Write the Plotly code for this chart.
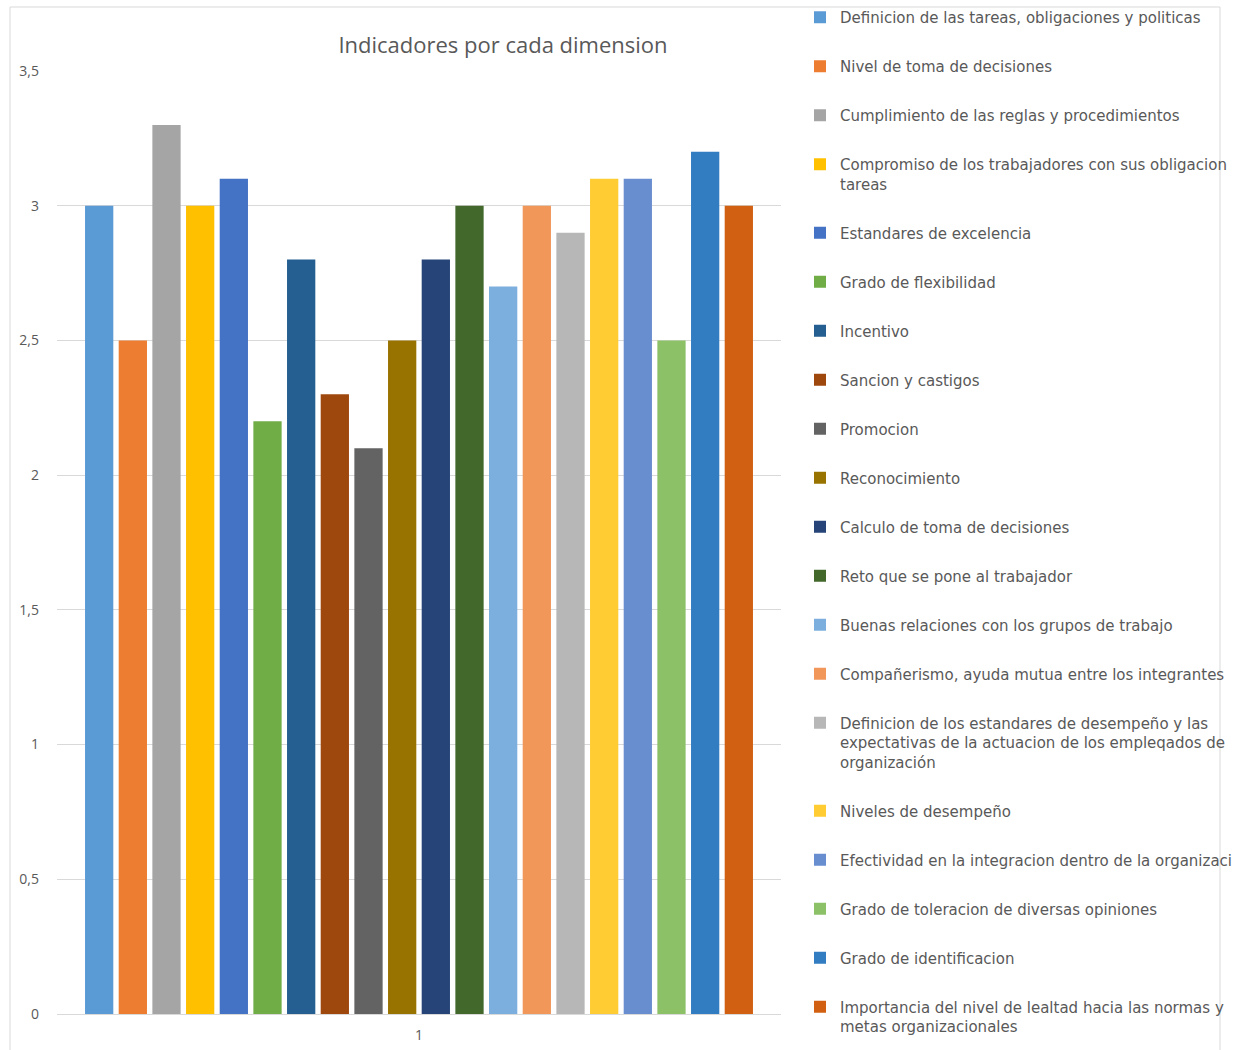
import plotly.graph_objects as go

categories = ["1"]
series_names = [
    "Definicion de las tareas, obligaciones y politicas",
    "Nivel de toma de decisiones",
    "Cumplimiento de las reglas y procedimientos",
    "Compromiso de los trabajadores con sus obligacion<br>tareas",
    "Estandares de excelencia",
    "Grado de flexibilidad",
    "Incentivo",
    "Sancion y castigos",
    "Promocion",
    "Reconocimiento",
    "Calculo de toma de decisiones",
    "Reto que se pone al trabajador",
    "Buenas relaciones con los grupos de trabajo",
    "Compañerismo, ayuda mutua entre los integrantes",
    "Definicion de los estandares de desempeño y las<br>expectativas de la actuacion de los empleqados de<br>organización",
    "Niveles de desempeño",
    "Efectividad en la integracion dentro de la organizaci",
    "Grado de toleracion de diversas opiniones",
    "Grado de identificacion",
    "Importancia del nivel de lealtad hacia las normas y<br>metas organizacionales",
]
series_values = [3.0, 2.5, 3.3, 3.0, 3.1, 2.2, 2.8, 2.3, 2.1, 2.5,
                 2.8, 3.0, 2.7, 3.0, 2.9, 3.1, 3.1, 2.5, 3.2, 3.0]
series_colors = [
    "#5B9BD5", "#ED7D31", "#A5A5A5", "#FFC000", "#4472C4",
    "#70AD47", "#255E91", "#9E480E", "#636363", "#997300",
    "#264478", "#43682B", "#7CAFDD", "#F1975A", "#B7B7B7",
    "#FFCD33", "#698ED0", "#8CC168", "#327DC2", "#D26012",
]
y_tick_vals = [0, 0.5, 1, 1.5, 2, 2.5, 3, 3.5]

W, H = 1233, 1050
L, R, T, B = 57, 781, 71, 1014
pw, ph = R - L, B - T

def px_x(x):
    return (x - L) / pw

def px_y(y):
    return (B - y) / ph

FONT = "Open Sans"
LFONT = "DejaVu Sans"
GRAY = "#595959"

fig = go.Figure()
for i, (name, val, col) in enumerate(zip(series_names, series_values, series_colors)):
    fig.add_trace(go.Bar(
        x=categories, y=[val], name=name, marker_color=col,
        marker_line_width=0, legendgroup=f"g{i}",
    ))

fig.update_layout(
    width=W, height=H,
    margin=dict(l=L, r=W - R, t=T, b=H - B, pad=0, autoexpand=False),
    paper_bgcolor="white", plot_bgcolor="white",
    separators=",.",
    barmode="group", bargap=0.07, bargroupgap=0.16,
    title=dict(text="Indicadores por cada dimension", x=px_x(503), xref="paper",
               xanchor="center", y=1 - 45 / H, yanchor="middle",
               font=dict(family=FONT, size=22, color=GRAY)),
    font=dict(family=FONT, color=GRAY),
    showlegend=True,
    legend=dict(x=px_x(800), xanchor="left", y=px_y(1), yanchor="top",
                font=dict(family=LFONT, size=15, color=GRAY),
                tracegroupgap=26.5, valign="top", bgcolor="rgba(0,0,0,0)",
                maxheight=1200, itemclick=False),
    xaxis=dict(showgrid=False, showline=True, linecolor="#D9D9D9", linewidth=1,
               ticks="", ticklabelstandoff=8,
               tickfont=dict(family=FONT, size=14, color=GRAY),
               fixedrange=True),
    yaxis=dict(range=[0, 3.5], tickvals=y_tick_vals, showgrid=True,
               gridcolor="#D9D9D9", gridwidth=1, zeroline=False, showline=False,
               ticks="", ticklabelstandoff=17,
               tickfont=dict(family=FONT, size=14, color=GRAY), fixedrange=True),
    shapes=[dict(type="rect", xref="paper", yref="paper",
                 x0=px_x(10), x1=px_x(1220), y0=px_y(1060), y1=px_y(7),
                 line=dict(color="#D9D9D9", width=1), fillcolor="rgba(0,0,0,0)",
                 layer="below")],
)

fig.write_html("out.html")
